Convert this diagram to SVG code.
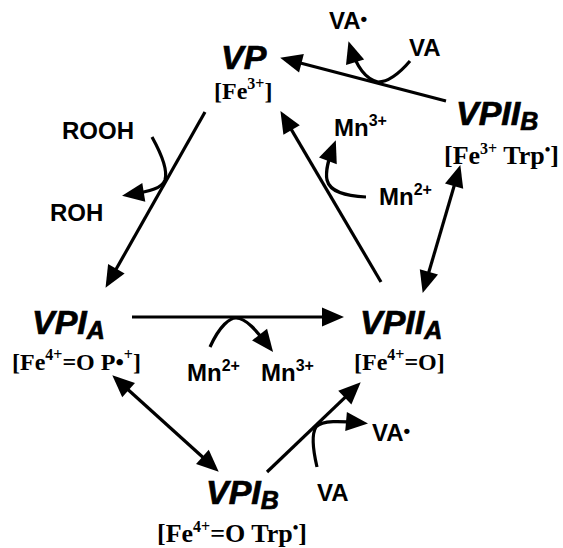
<svg xmlns="http://www.w3.org/2000/svg" width="563" height="548" viewBox="0 0 563 548">
<style>
.node{font-family:"Liberation Sans",Arial,sans-serif;font-weight:bold;font-style:italic;font-size:34px;fill:#000;stroke:#000;stroke-width:0.7}
.sub{font-size:25px}
.fe{font-family:"Liberation Serif","Times New Roman",serif;font-weight:bold;font-size:24px;fill:#000}
.fe2{font-size:26px}
.sup{font-size:16px}
.lab{font-family:"Liberation Sans",Arial,sans-serif;font-weight:bold;font-size:24px;fill:#000}
.lsup{font-size:16px}
.conn{fill:none;stroke:#000;stroke-width:3.2}
</style>
<defs>
<marker id="ah" markerUnits="userSpaceOnUse" markerWidth="22" markerHeight="19" refX="17" refY="9.5" orient="auto" overflow="visible">
<path d="M0,0 L22,9.5 L0,19 z" fill="#000"/>
</marker>
<marker id="ahs" markerUnits="userSpaceOnUse" markerWidth="22" markerHeight="19" refX="17" refY="9.5" orient="auto-start-reverse" overflow="visible">
<path d="M0,0 L22,9.5 L0,19 z" fill="#000"/>
</marker>
</defs>
<g id="connectors">
<line class="conn" x1="446" y1="101" x2="285" y2="59" marker-end="url(#ah)"/>
<line class="conn" x1="205" y1="112" x2="108" y2="283.5" marker-end="url(#ah)"/>
<line class="conn" x1="132" y1="317" x2="339" y2="317" marker-end="url(#ah)"/>
<line class="conn" x1="381" y1="282" x2="283" y2="115.4" marker-end="url(#ah)"/>
<line class="conn" x1="424.1" y1="288.2" x2="458.9" y2="169.8" marker-start="url(#ahs)" marker-end="url(#ahs)"/>
<line class="conn" x1="116" y1="378.7" x2="215" y2="468.3" marker-start="url(#ahs)" marker-end="url(#ahs)"/>
<line class="conn" x1="267" y1="472" x2="357.1" y2="385.8" marker-end="url(#ah)"/>
<path class="conn" d="M410,61 Q392,82 378,82 Q360,78 350,46" marker-end="url(#ah)"/>
<path class="conn" d="M152,137 C162,155 168,170 165,180 C162,188 152,191 127,195" marker-end="url(#ah)"/>
<path class="conn" d="M210,347 C220,325 230,318 236,318 C246,318 256,330 270,348" marker-end="url(#ah)"/>
<path class="conn" d="M366,197 C345,196 330,192 327,180 C325,170 329,158 334,145" marker-end="url(#ah)"/>
<path class="conn" d="M317,467 C313,450 311,435 316,427 C322,420 340,421 363,423" marker-end="url(#ah)"/>
</g>
<g id="VP">
<text class="node" x="221" y="69">VP</text>
<text class="fe" x="214" y="99">[Fe<tspan class="sup" dy="-10">3+</tspan><tspan dy="10">]</tspan></text>
</g>
<g id="VPIIB">
<text class="node" x="456" y="125">VPII<tspan class="sub" dy="5">B</tspan></text>
<text class="fe fe2" x="444" y="164">[Fe<tspan class="sup" dy="-10">3+</tspan><tspan dy="10"> Trp</tspan><tspan class="sup" dy="-9">•</tspan><tspan dy="9">]</tspan></text>
</g>
<g id="VPIA">
<text class="node" x="32" y="334">VPI<tspan class="sub" dy="5">A</tspan></text>
<text class="fe" x="12" y="370">[Fe<tspan class="sup" dy="-10">4+</tspan><tspan dy="10">=O P•</tspan><tspan class="sup" dy="-10">+</tspan><tspan dy="10">]</tspan></text>
</g>
<g id="VPIIA">
<text class="node" x="360" y="334">VPII<tspan class="sub" dy="5">A</tspan></text>
<text class="fe" x="354" y="370">[Fe<tspan class="sup" dy="-10">4+</tspan><tspan dy="10">=O]</tspan></text>
</g>
<g id="VPIB">
<text class="node" x="206" y="504">VPI<tspan class="sub" dy="5">B</tspan></text>
<text class="fe fe2" x="157" y="542">[Fe<tspan class="sup" dy="-10">4+</tspan><tspan dy="10">=O Trp</tspan><tspan class="sup" dy="-9">•</tspan><tspan dy="9">]</tspan></text>
</g>
<g id="labels">
<text class="lab" x="62" y="139">ROOH</text>
<text class="lab" x="50" y="221">ROH</text>
<text class="lab" x="329" y="29">VA<tspan font-size="19" dy="-4">•</tspan></text>
<text class="lab" x="409" y="56">VA</text>
<text class="lab" x="334" y="136">Mn<tspan class="lsup" dy="-10">3+</tspan></text>
<text class="lab" x="379" y="205">Mn<tspan class="lsup" dy="-10">2+</tspan></text>
<text class="lab" x="187" y="381">Mn<tspan class="lsup" dy="-10">2+</tspan></text>
<text class="lab" x="261" y="381">Mn<tspan class="lsup" dy="-10">3+</tspan></text>
<text class="lab" x="372" y="441">VA<tspan font-size="19" dy="-4">•</tspan></text>
<text class="lab" x="317" y="501">VA</text>
</g>
</svg>
